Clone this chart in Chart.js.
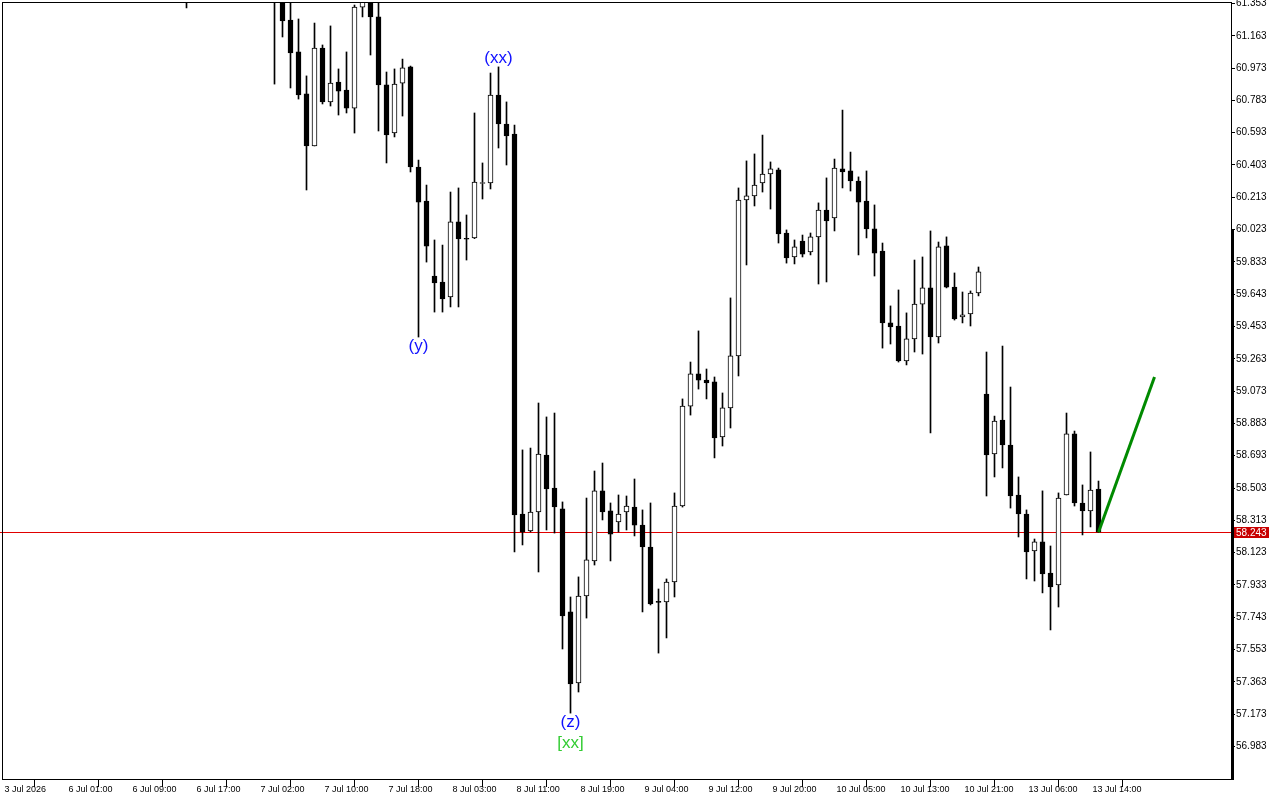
<!DOCTYPE html>
<html>
<head>
<meta charset="utf-8">
<title>H1 candles</title>
<script src="https://cdn.jsdelivr.net/npm/chart.js@4.4.1/dist/chart.umd.min.js"></script>
<style>
    html, body { margin: 0; padding: 0; background: #fff; }
    #wrap { width: 1280px; height: 800px; }
</style>
</head>
<body>
<div id="wrap"><canvas id="priceChart" width="1280" height="800"></canvas></div>
<script>
// one H1 bar per index, null = bar sits above the visible price range
const opens = [
    null, null, null, null, null, null, null, null, null, null,
    null, null, null, null, null, null, null, null, null, null,
    null, null, null, 61.45, null, null, null, null, null, null,
    null, null, null, null, 61.42, 61.40, 61.256, 61.068, 60.821, 60.515,
    61.091, 60.774, 60.891, 60.844, 60.738, 61.332, 61.37, 61.274, 60.874, 60.591,
    60.885, 60.980, 60.391, 60.191, 59.750, 59.715, 59.627, 60.068, 59.972, 59.974,
    60.294, 60.297, 60.815, 60.644, 60.585, 58.350, 58.250, 58.362, 58.697, 58.503,
    58.380, 57.774, 57.356, 57.868, 58.074, 58.486, 58.368, 58.303, 58.362, 58.391,
    58.285, 58.156, 57.836, 57.833, 57.950, 58.397, 58.985, 59.174, 59.138, 59.127,
    58.803, 58.974, 59.280, 60.197, 60.221, 60.297, 60.350, 60.374, 60.003, 59.862,
    59.956, 59.891, 59.980, 60.138, 60.091, 60.380, 60.368, 60.309, 60.191, 60.027,
    59.897, 59.474, 59.456, 59.250, 59.380, 59.585, 59.680, 59.391, 59.927, 59.685,
    59.509, 59.527, 59.650, 59.056, 58.703, 58.903, 58.756, 58.462, 58.350, 58.133,
    58.186, 58.003, 57.933, 58.462, 58.821, 58.415, 58.368, 58.497
];
const highs = [
    null, null, null, null, null, null, null, null, null, null,
    null, null, null, null, null, null, null, null, null, null,
    null, null, null, 61.50, null, null, null, null, null, null,
    null, null, null, null, 61.48, 61.45, 61.40, 61.262, 60.927, 61.238,
    61.109, 61.221, 60.968, 61.068, 61.344, 61.40, 61.42, 61.40, 60.950, 60.968,
    61.026, 60.985, 60.432, 60.285, 59.962, 59.932, 60.244, 60.268, 60.109, 60.709,
    60.415, 60.944, 60.980, 60.774, 60.638, 58.727, 58.738, 59.003, 58.921, 58.944,
    58.421, 57.862, 57.980, 58.444, 58.603, 58.650, 58.415, 58.462, 58.456, 58.556,
    58.374, 58.415, 57.909, 57.968, 58.474, 59.027, 59.244, 59.427, 59.203, 59.156,
    59.062, 59.621, 60.268, 60.427, 60.468, 60.579, 60.421, 60.385, 60.021, 59.962,
    59.991, 60.003, 60.180, 60.327, 60.438, 60.726, 60.479, 60.333, 60.368, 60.168,
    59.944, 59.574, 59.668, 59.533, 59.844, 59.862, 60.015, 59.950, 59.980, 59.768,
    59.656, 59.662, 59.803, 59.303, 58.926, 59.338, 59.097, 58.568, 58.374, 58.203,
    58.486, 58.162, 58.474, 58.944, 58.838, 58.521, 58.715, 58.544
];
const lows = [
    null, null, null, null, null, null, null, null, null, null,
    null, null, null, null, null, null, null, null, null, null,
    null, null, null, 61.327, null, null, null, null, null, null,
    null, null, null, null, 60.879, 61.156, 60.856, 60.791, 60.256, 60.515,
    60.762, 60.750, 60.697, 60.709, 60.591, 61.274, 61.050, 60.603, 60.415, 60.568,
    60.691, 60.362, 59.391, 59.832, 59.538, 59.538, 59.568, 59.568, 59.844, 59.970,
    60.203, 60.262, 60.503, 60.403, 58.127, 58.168, 58.245, 58.009, 58.256, 58.238,
    57.556, 57.179, 57.303, 57.738, 58.050, 58.315, 58.074, 58.244, 58.256, 58.221,
    57.774, 57.815, 57.532, 57.621, 57.862, 58.391, 58.932, 59.085, 59.027, 58.680,
    58.750, 58.856, 59.162, 59.815, 60.162, 60.244, 60.144, 59.944, 59.826, 59.821,
    59.862, 59.874, 59.703, 59.715, 60.015, 60.268, 60.250, 59.874, 59.974, 59.750,
    59.326, 59.350, 59.244, 59.227, 59.303, 59.291, 58.827, 59.356, 59.680, 59.491,
    59.474, 59.456, 59.633, 58.456, 58.568, 58.621, 58.385, 58.215, 57.968, 57.956,
    57.886, 57.668, 57.803, 58.462, 58.397, 58.227, 58.274, 58.243
];
const closes = [
    null, null, null, null, null, null, null, null, null, null,
    null, null, null, null, null, null, null, null, null, null,
    null, null, null, 61.42, null, null, null, null, null, null,
    null, null, null, null, 61.40, 61.250, 61.062, 60.815, 60.515, 61.091,
    60.774, 60.885, 60.838, 60.738, 61.332, 61.37, 61.274, 60.874, 60.580, 60.879,
    60.974, 60.391, 60.185, 59.926, 59.709, 59.615, 60.068, 59.968, 59.966, 60.303,
    60.300, 60.815, 60.644, 60.574, 58.344, 58.244, 58.362, 58.703, 58.497, 58.391,
    57.750, 57.350, 57.868, 58.080, 58.486, 58.362, 58.232, 58.350, 58.397, 58.285,
    58.156, 57.821, 57.830, 57.950, 58.397, 58.985, 59.174, 59.138, 59.121, 58.797,
    58.974, 59.280, 60.197, 60.221, 60.285, 60.350, 60.380, 59.997, 59.856, 59.921,
    59.879, 59.980, 60.138, 60.074, 60.385, 60.362, 60.309, 60.185, 60.027, 59.885,
    59.474, 59.450, 59.250, 59.380, 59.585, 59.680, 59.391, 59.921, 59.685, 59.497,
    59.521, 59.650, 59.774, 58.697, 58.897, 58.756, 58.456, 58.350, 58.127, 58.186,
    57.997, 57.921, 58.444, 58.821, 58.415, 58.368, 58.491, 58.243
];

// time axis: a label every 8 bars
const xTickIdx = [0, 8, 16, 24, 32, 40, 48, 56, 64, 72, 80, 88, 96, 104, 112, 120, 128, 136];
const xTickLabels = [
    '3 Jul 2026', '6 Jul 01:00', '6 Jul 09:00', '6 Jul 17:00', '7 Jul 02:00', '7 Jul 10:00',
    '7 Jul 18:00', '8 Jul 03:00', '8 Jul 11:00', '8 Jul 19:00', '9 Jul 04:00', '9 Jul 12:00',
    '9 Jul 20:00', '10 Jul 05:00', '10 Jul 13:00', '10 Jul 21:00', '13 Jul 06:00', '13 Jul 14:00'
];
const yTickVals = [
    56.983, 57.173, 57.363, 57.553, 57.743, 57.933, 58.123, 58.313, 58.503, 58.693, 58.883, 59.073,
    59.263, 59.453, 59.643, 59.833, 60.023, 60.213, 60.403, 60.593, 60.783, 60.973, 61.163, 61.353
];

const bidPrice = 58.243;
const rightBarTop = 60.023;

// projected move drawn from the last bar
const trendX = [137, 144];
const trendY = [58.243, 59.156];

// wave marks: bar index, which end of the bar, wave degree
const waveText = ['(y)', '(xx)', '(z)', '[xx]'];
const waveBar = [52, 62, 71, 71];
const waveEnd = ['low', 'high', 'low', 'low'];
const waveDegree = ['minor', 'minor', 'minor', 'intermediate'];

const degreeColor = { minor: '#1010ff', intermediate: '#33cc33' };
const FONT = 'Liberation Sans';

function buildCandles() {
    const bodies = [];
    const wicks = [];
    const colors = [];
    for (let i = 0; i < opens.length; i++) {
        if (opens[i] === null) continue;
        bodies.push({ x: i, y: [opens[i], closes[i]] });
        wicks.push({ x: i, y: [lows[i], highs[i]] });
        colors.push(closes[i] > opens[i] ? '#ffffff' : '#000000');
    }
    return { bodies, wicks, colors };
}

const overlay = {
    id: 'overlay',
    beforeDatasetsDraw(chart) {
        const ctx = chart.ctx;
        const area = chart.chartArea;
        const y = Math.round(chart.scales.y.getPixelForValue(bidPrice)) + 0.5;
        ctx.save();
        ctx.strokeStyle = '#e00000';
        ctx.lineWidth = 1;
        ctx.beginPath();
        ctx.moveTo(0, y);
        ctx.lineTo(area.right, y);
        ctx.stroke();
        ctx.restore();
    },
    afterDraw(chart) {
        const ctx = chart.ctx;
        const area = chart.chartArea;
        const xs = chart.scales.x;
        const ys = chart.scales.y;
        ctx.save();

        // frame
        ctx.strokeStyle = '#000';
        ctx.lineWidth = 1;
        ctx.strokeRect(area.left + 0.5, area.top + 0.5, area.right - area.left - 1, area.bottom - area.top - 1);
        const barTop = Math.round(ys.getPixelForValue(rightBarTop));
        ctx.fillStyle = '#000';
        ctx.fillRect(area.right - 1, barTop, 3, area.bottom - barTop);

        // bid label on the price scale
        const by = Math.round(ys.getPixelForValue(bidPrice));
        ctx.fillStyle = '#c80000';
        ctx.fillRect(area.right + 2, by - 5, 35, 11);
        ctx.fillStyle = '#fff';
        ctx.font = '10px "' + FONT + '"';
        ctx.textAlign = 'left';
        ctx.textBaseline = 'middle';
        ctx.fillText(bidPrice.toFixed(3), area.right + 4, by + 1);

        // wave labels
        ctx.font = '17px "' + FONT + '"';
        ctx.textAlign = 'center';
        const stack = {};
        for (let i = 0; i < waveText.length; i++) {
            const k = waveBar[i];
            const key = k + waveEnd[i];
            const n = stack[key] || 0;
            stack[key] = n + 1;
            const x = xs.getPixelForValue(k);
            let y;
            if (waveEnd[i] === 'high') {
                y = ys.getPixelForValue(highs[k]) - 9 - n * 21;
            } else {
                y = ys.getPixelForValue(lows[k]) + 9 + n * 21;
            }
            ctx.fillStyle = degreeColor[waveDegree[i]];
            ctx.fillText(waveText[i], x, y);
        }
        ctx.restore();
    }
};

function drawChart() {
    const candles = buildCandles();
    const trendPoints = trendX.map((x, i) => ({ x: x, y: trendY[i] }));

    const ctx = document.getElementById('priceChart').getContext('2d');
    new Chart(ctx, {
        type: 'bar',
        data: {
            datasets: [{
                type: 'line',
                label: 'projection',
                data: trendPoints,
                borderColor: '#008a00',
                borderWidth: 3,
                pointRadius: 0,
                order: 0
            }, {
                label: 'body',
                data: candles.bodies,
                backgroundColor: candles.colors,
                borderColor: '#000',
                borderWidth: 1,
                borderSkipped: false,
                barThickness: 5,
                minBarLength: 1,
                grouped: false,
                order: 1
            }, {
                label: 'wick',
                data: candles.wicks,
                backgroundColor: '#000',
                borderWidth: 0,
                barThickness: 1,
                grouped: false,
                order: 2
            }]
        },
        options: {
            responsive: false,
            animation: false,
            devicePixelRatio: 1,
            layout: { padding: { left: 2, top: 2, right: 0, bottom: 0 } },
            plugins: {
                legend: { display: false },
                tooltip: { enabled: false }
            },
            scales: {
                x: {
                    type: 'linear',
                    min: -0.0625,
                    max: 153.6875,
                    offset: false,
                    bounds: 'data',
                    border: { display: false },
                    grid: {
                        drawOnChartArea: false,
                        drawTicks: true,
                        tickLength: 7,
                        color: '#000'
                    },
                    afterBuildTicks: s => { s.ticks = xTickIdx.map(v => ({ value: v })); },
                    afterFit: s => {
                        s.height = 20;
                        s.paddingLeft = 0;
                        s.paddingRight = 0;
                    },
                    ticks: {
                        autoSkip: false,
                        maxRotation: 0,
                        align: 'start',
                        labelOffset: 2,
                        padding: -3,
                        color: '#000',
                        font: { family: FONT, size: 9 },
                        callback: (v, i) => xTickLabels[i]
                    }
                },
                y: {
                    type: 'linear',
                    position: 'right',
                    min: 56.7854,
                    max: 61.3618,
                    bounds: 'data',
                    border: { display: false },
                    grid: {
                        drawOnChartArea: false,
                        drawTicks: true,
                        tickLength: 3,
                        color: '#000'
                    },
                    afterBuildTicks: s => { s.ticks = yTickVals.map(v => ({ value: v })); },
                    afterFit: s => {
                        s.width = 48;
                        s.paddingTop = 0;
                        s.paddingBottom = 0;
                    },
                    ticks: {
                        autoSkip: false,
                        padding: 1,
                        color: '#000',
                        font: { family: FONT, size: 10 },
                        callback: v => v.toFixed(3)
                    }
                }
            }
        },
        plugins: [overlay]
    });
}

drawChart();
</script>
</body>
</html>
